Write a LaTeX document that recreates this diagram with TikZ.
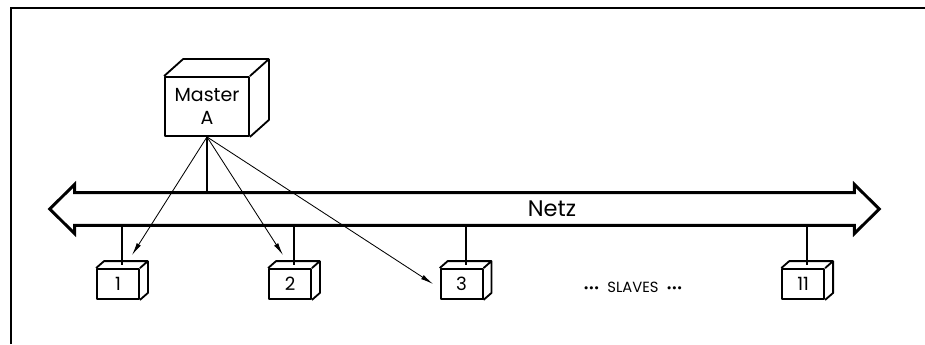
\documentclass[tikz,border=0pt]{standalone}
\usepackage{fontspec}
\setmainfont{Poppins}
\usetikzlibrary{arrows.meta,calc}

\begin{document}
\begin{tikzpicture}[>={Latex[length=9pt,width=3.4pt]},
  box/.style={draw, line width=1.3pt, inner sep=0pt, line join=round},
  slave/.style={box, minimum width=1.05cm, minimum height=0.75cm, font=\fontsize{13}{13}\selectfont},
  link/.style={line width=1.3pt},
  call/.style={->, line width=0.6pt}]
\def\dx{0.2}\def\dy{0.175}
\useasboundingbox (0,0) rectangle (23.125,8.6);
\draw[line width=1.2pt] (0.275,0) -- (0.275,8.4) -- (23.125,8.4);

% the bus with its two heads
\node[minimum width=19.475cm, minimum height=0.8cm, inner sep=0pt] (netz) at (11.6125,3.375) {};
\draw[line width=2.1pt, line join=miter] (netz.north west) -- (netz.north east) -- ++(0,0.21)
  -- ($(netz.east)+(0.625,0)$) -- ($(netz.south east)+(0,-0.21)$) -- (netz.south east)
  -- (netz.south west) -- ++(0,-0.21) -- ($(netz.west)+(-0.625,0)$)
  -- ($(netz.north west)+(0,0.21)$) -- cycle;
\node[font=\fontsize{16}{16}\selectfont] (netzlbl) at (13.8,3.375) {Netz};

% master
\node[box, minimum width=2.1cm, minimum height=1.475cm, align=center,
  font=\fontsize{13.5}{16}\selectfont] (master) at (5.175,5.9375) {Master\\A};
\draw[box] (master.north west) -- ++(0.475,0.425) -| ($(master.south east)+(0.475,0.425)$)
  -- (master.south east) (master.north east) -- ++(0.475,0.425);
\draw[link] (master.south) -- (master.south |- netz.north);

% slaves
\foreach \n/\x in {1/2.95, 2/7.25, 3/11.54, 11/20.08}{
  \node[slave] (s\n) at (\x,1.5) {\n};
  \draw[box] (s\n.north west) -- ++(\dx,\dy) -| ($(s\n.south east)+(\dx,\dy)$)
    -- (s\n.south east) (s\n.north east) -- ++(\dx,\dy);
  \coordinate (c\n) at ($(s\n.north)+(\dx/2,\dy/2)$);
  \draw[link] (c\n) -- (c\n |- netz.south);
}
\node[font=\fontsize{10.5}{10.5}\selectfont] (more) at (15.825,1.425)
  {{\fontsize{9}{9}\selectfont •••}\; SLAVES\; {\fontsize{9}{9}\selectfont •••}};

% master calls
\coordinate (t1) at ($(s1.north)+(0.35,0.325)$);
\coordinate (t2) at ($(s2.north)+(-0.175,0.325)$);
\coordinate (t3) at ($(s3.west)+(-0.165,0)$);
\foreach \t in {t1,t2,t3}
  \draw[call] (master.south) -- (\t);
\end{tikzpicture}
\end{document}
